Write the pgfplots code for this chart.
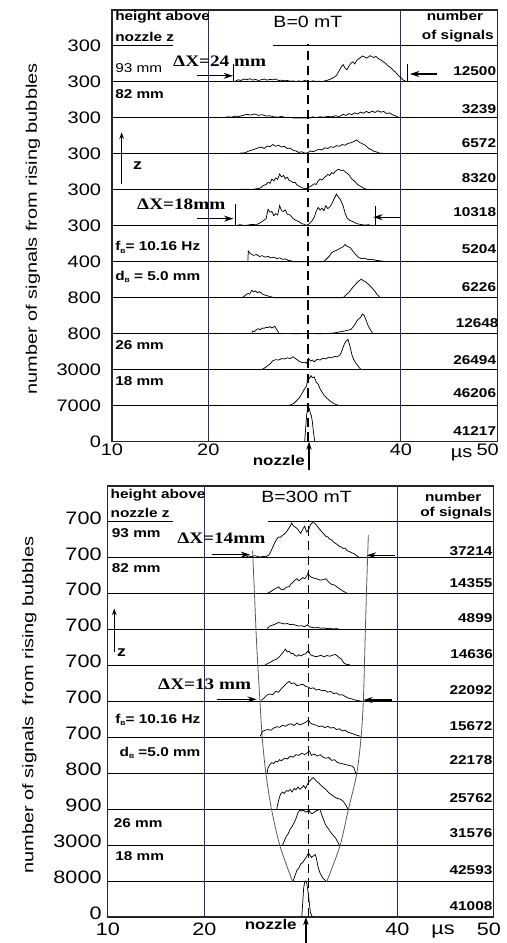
\documentclass[border=0pt]{standalone}
\usepackage{fontspec}
\setmainfont{Liberation Sans}[FakeStretch=1.2]
\newfontfamily\serifb{Liberation Serif}[FakeStretch=1.2]
\newfontfamily\plainsans{Liberation Sans}
\usepackage{pgfplots}
\pgfplotsset{compat=1.18}
\usetikzlibrary{arrows.meta}
\definecolor{gridnavy}{RGB}{40,40,130}
\newcommand{\lab}{\fontsize{9.6}{10}\selectfont\bfseries}
\newcommand{\dx}{\serifb\fontsize{12}{12}\selectfont\bfseries}
\newcommand{\sub}[1]{\raisebox{-1.6pt}{\fontsize{4.5}{5}\selectfont #1}}

\tikzset{arr/.style={-{Stealth[length=7pt,width=4.5pt]}, line width=0.9pt}}
\pgfplotsset{
  panel/.style={
    scale only axis, clip=false,
    xmin=10, xmax=50, ymin=0, ymax=12,
    axis line style={draw=black!85, line width=0.8pt},
    major tick length=0pt, tick style={draw=none},
    xticklabels={10,20,40,50},
    ytick={0,...,11},
    tick label style={inner sep=0pt},
    /pgf/number format/assume math mode=true,
  },
  hist/.style={black, line width=0.55pt, mark=none},
  env/.style={black!65, line width=0.6pt, smooth, mark=none},
}

\begin{document}
\begin{tikzpicture}
\path[use as bounding box] (0,0) rectangle (380.25pt,707.25pt);

% ---------------- B = 0 mT ----------------
\begin{axis}[panel, at={(84pt,375.98pt)}, anchor=south west,
  width=288.98pt, height=323.78pt,
  xtick={10,20,40,49.0},
  tick label style={font=\fontsize{12.5}{12.5}\selectfont},
  yticklabels={0,7000,3000,800,800,400,300,300,300,300,300,300},
  yticklabel style={xshift=-8pt}, xticklabel style={yshift=-1.5pt}]

\pgfplotsinvokeforeach{1,...,10}{\draw[line width=0.75pt] (axis cs:10,#1) -- (axis cs:50,#1);}
\draw[line width=0.75pt] (axis cs:10,11) -- (axis cs:16.3,11);
\draw[line width=0.75pt] (axis cs:26.7,11) -- (axis cs:50,11);
\draw[gridnavy, line width=0.75pt] (axis cs:20,0) -- (axis cs:20,12);
\draw[gridnavy, line width=0.75pt] (axis cs:40,0) -- (axis cs:40,12);
\draw[dash pattern=on 7pt off 4pt, line width=1.3pt] (axis cs:30.31,0) -- (axis cs:30.31,11.06);

% 93 mm
\addplot[hist] coordinates {(22.8,10.02)(23.1,10.06)(23.4,10.04)(23.7,10.08)(24.0,10.06)(24.3,10.09)(24.6,10.05)(24.9,10.07)(25.2,10.04)(25.5,10.06)(25.8,10.08)(26.1,10.05)(26.4,10.07)(26.7,10.06)(27.0,10.08)(27.3,10.04)(27.6,10.05)(27.9,10.03)(28.2,10.04)(28.5,10.02)(28.8,10.03)(29.1,10.01)(29.4,10.03)(29.7,10.01)(30.0,10.04)(30.3,10.02)(30.6,10.01)(30.9,10.03)(31.2,10.01)(31.5,10.02)(31.8,10.01)(32.1,10.03)(32.4,10.05)(32.7,10.08)(33.0,10.12)(33.3,10.18)(33.6,10.32)(33.8,10.42)(34.0,10.48)(34.2,10.38)(34.4,10.34)(34.6,10.44)(34.8,10.52)(35.0,10.56)(35.2,10.50)(35.4,10.60)(35.6,10.64)(35.8,10.68)(36.0,10.72)(36.2,10.70)(36.4,10.66)(36.6,10.69)(36.8,10.73)(37.0,10.70)(37.2,10.68)(37.4,10.71)(37.6,10.66)(37.8,10.62)(38.0,10.60)(38.2,10.55)(38.4,10.52)(38.6,10.46)(38.8,10.42)(39.0,10.38)(39.2,10.32)(39.4,10.28)(39.6,10.22)(39.8,10.16)(40.0,10.12)(40.2,10.06)(40.4,10.03)(40.6,10.01)(41.0,10.02)};
% 82 mm
\addplot[hist] coordinates {(21.7,9.01)(22.0,9.03)(22.4,9.02)(22.8,9.05)(23.2,9.04)(23.6,9.07)(24.0,9.10)(24.4,9.08)(24.8,9.11)(25.2,9.07)(25.6,9.09)(26.0,9.05)(26.4,9.06)(26.8,9.03)(27.2,9.02)(27.6,9.04)(28.0,9.01)(28.4,9.02)(28.8,9.0)(30.6,9.0)(30.8,9.03)(31.2,9.01)(31.6,9.03)(32.0,9.02)(32.4,9.04)(32.8,9.03)(33.2,9.06)(33.6,9.04)(34.0,9.10)(34.3,9.07)(34.6,9.12)(34.9,9.09)(35.2,9.14)(35.5,9.11)(35.8,9.16)(36.1,9.13)(36.4,9.18)(36.7,9.14)(37.0,9.19)(37.3,9.15)(37.6,9.20)(37.9,9.16)(38.2,9.18)(38.5,9.12)(38.8,9.14)(39.1,9.09)(39.4,9.06)(39.7,9.02)};
\addplot[hist] coordinates {(23.3,8.02)(23.8,8.03)(24.3,8.09)(24.7,8.12)(25.1,8.16)(25.5,8.19)(25.8,8.15)(26.1,8.22)(26.4,8.20)(26.7,8.26)(27.0,8.21)(27.3,8.24)(27.6,8.19)(27.9,8.21)(28.2,8.15)(28.5,8.16)(28.8,8.10)(29.1,8.08)(29.4,8.04)(29.7,8.06)(30.0,8.02)(30.3,8.03)(30.6,8.08)(30.9,8.06)(31.2,8.10)(31.5,8.13)(31.8,8.11)(32.1,8.17)(32.4,8.15)(32.7,8.20)(33.0,8.18)(33.3,8.23)(33.6,8.21)(33.9,8.26)(34.2,8.24)(34.5,8.29)(34.8,8.31)(35.1,8.34)(35.4,8.39)(35.7,8.32)(36.0,8.28)(36.3,8.24)(36.6,8.16)(36.9,8.12)(37.2,8.07)(37.5,8.05)(37.8,8.02)(38.4,8.01)(39.2,8.01)};
\addplot[hist] coordinates {(23.1,7.01)(23.8,7.02)(24.5,7.01)(25.0,7.03)(25.4,7.05)(25.7,7.12)(26.0,7.15)(26.2,7.21)(26.4,7.18)(26.6,7.30)(26.8,7.25)(27.0,7.33)(27.2,7.29)(27.4,7.44)(27.6,7.36)(27.8,7.40)(28.0,7.31)(28.2,7.35)(28.4,7.26)(28.6,7.24)(28.8,7.20)(29.0,7.21)(29.2,7.14)(29.5,7.09)(29.8,7.05)(30.0,7.03)(30.2,7.04)(30.5,7.08)(30.8,7.13)(31.0,7.17)(31.2,7.15)(31.4,7.25)(31.6,7.30)(31.8,7.27)(32.0,7.33)(32.2,7.38)(32.4,7.43)(32.6,7.40)(32.8,7.48)(33.0,7.45)(33.2,7.52)(33.5,7.57)(33.8,7.54)(34.0,7.55)(34.3,7.48)(34.6,7.42)(34.9,7.30)(35.2,7.24)(35.5,7.15)(35.8,7.10)(36.1,7.05)(36.4,7.02)(36.8,7.0)};
\addplot[hist] coordinates {(22.9,6.01)(23.3,6.03)(23.7,6.01)(24.1,6.02)(24.5,6.04)(25.0,6.03)(25.4,6.09)(25.7,6.14)(26.0,6.20)(26.2,6.46)(26.4,6.38)(26.6,6.40)(26.8,6.28)(27.0,6.34)(27.2,6.30)(27.4,6.56)(27.6,6.42)(27.8,6.40)(28.0,6.44)(28.2,6.32)(28.5,6.30)(28.8,6.20)(29.1,6.15)(29.4,6.12)(29.7,6.06)(30.0,6.04)(30.2,6.01)(30.5,6.06)(30.8,6.15)(31.0,6.24)(31.2,6.40)(31.4,6.51)(31.6,6.44)(31.8,6.49)(32.0,6.42)(32.2,6.56)(32.4,6.48)(32.6,6.52)(32.8,6.60)(33.0,6.72)(33.3,6.88)(33.5,6.80)(33.7,6.74)(34.0,6.55)(34.2,6.35)(34.4,6.22)(34.7,6.15)(35.0,6.12)(35.4,6.06)(35.8,6.04)(36.2,6.02)(36.6,6.03)(37.1,6.0)};
\addplot[hist] coordinates {(24.1,5.0)(24.15,5.30)(24.4,5.22)(24.7,5.18)(25.0,5.20)(25.3,5.15)(25.6,5.17)(25.9,5.13)(26.2,5.15)(26.5,5.11)(26.8,5.13)(27.1,5.09)(27.4,5.11)(27.7,5.07)(28.0,5.08)(28.3,5.04)(28.6,5.03)(28.7,5.0)(31.9,5.0)(32.2,5.06)(32.5,5.14)(32.8,5.25)(33.1,5.30)(33.4,5.33)(33.7,5.38)(34.0,5.42)(34.2,5.48)(34.4,5.43)(34.7,5.40)(35.0,5.30)(35.3,5.20)(35.6,5.12)(35.9,5.09)(36.2,5.10)(36.6,5.06)(37.0,5.07)(37.4,5.04)(37.8,5.03)(38.3,5.01)};
\addplot[hist] coordinates {(23.5,4.0)(23.8,4.06)(24.1,4.12)(24.3,4.10)(24.5,4.21)(24.7,4.16)(24.9,4.19)(25.1,4.14)(25.3,4.17)(25.6,4.11)(25.9,4.07)(26.2,4.05)(26.6,4.02)(26.9,4.0)(34.0,4.0)(34.3,4.08)(34.6,4.15)(34.9,4.26)(35.1,4.32)(35.3,4.38)(35.5,4.44)(35.7,4.48)(35.9,4.52)(36.1,4.47)(36.3,4.45)(36.5,4.40)(36.7,4.36)(36.9,4.30)(37.1,4.24)(37.3,4.18)(37.5,4.10)(37.8,4.02)};
\addplot[hist] coordinates {(24.5,3.0)(24.6,3.08)(24.8,3.06)(25.0,3.12)(25.2,3.14)(25.4,3.11)(25.6,3.16)(25.8,3.15)(26.0,3.18)(26.2,3.17)(26.4,3.20)(26.6,3.16)(26.9,3.21)(27.1,3.12)(27.3,3.03)(27.4,3.0)(28.0,3.01)(29.0,3.0)(30.5,3.01)(31.5,3.0)(32.5,3.01)(33.0,3.02)(33.4,3.04)(33.8,3.06)(34.2,3.08)(34.5,3.10)(34.8,3.12)(35.0,3.18)(35.2,3.25)(35.4,3.35)(35.6,3.41)(35.8,3.45)(36.0,3.55)(36.2,3.50)(36.4,3.36)(36.6,3.22)(36.8,3.12)(37.1,3.0)};
\addplot[hist] coordinates {(25.5,2.0)(25.8,2.04)(26.1,2.10)(26.4,2.16)(26.7,2.25)(27.0,2.28)(27.3,2.27)(27.6,2.31)(27.9,2.30)(28.2,2.33)(28.5,2.31)(28.8,2.36)(29.1,2.30)(29.4,2.24)(29.7,2.20)(30.0,2.21)(30.2,2.18)(30.4,2.32)(30.6,2.24)(30.8,2.27)(31.0,2.22)(31.3,2.29)(31.6,2.27)(31.9,2.32)(32.2,2.30)(32.5,2.35)(32.8,2.33)(33.1,2.37)(33.4,2.36)(33.7,2.42)(33.9,2.55)(34.1,2.70)(34.3,2.80)(34.5,2.84)(34.7,2.66)(34.9,2.42)(35.1,2.28)(35.4,2.15)(35.7,2.05)(35.9,2.0)};
\addplot[hist] coordinates {(28.3,1.0)(28.6,1.03)(28.9,1.07)(29.2,1.15)(29.5,1.24)(29.8,1.38)(30.0,1.47)(30.2,1.55)(30.35,1.82)(30.5,1.76)(30.65,1.84)(30.8,1.78)(31.0,1.80)(31.2,1.66)(31.4,1.60)(31.6,1.47)(31.8,1.38)(32.0,1.30)(32.3,1.21)(32.6,1.14)(32.9,1.08)(33.2,1.04)(33.6,1.0)};
\addplot[hist] coordinates {(30.0,0.0)(30.1,0.35)(30.2,0.72)(30.3,0.90)(30.4,0.97)(30.5,0.90)(30.6,0.78)(30.7,0.72)(30.8,0.55)(30.9,0.30)(31.05,0.0)};

% annotations
\node[anchor=west, font=\lab, inner sep=0pt] at (axis cs:10.31,11.80) {height above};
\node[anchor=west, font=\lab, inner sep=0pt] at (axis cs:10.31,11.26) {nozzle z};
\node[font=\fontsize{12.2}{12}\selectfont, inner sep=0pt] at (axis cs:30.34,11.68) {B=0 mT};
\node[font=\lab, inner sep=0pt] at (axis cs:45.6,11.83) {number};
\node[font=\lab, inner sep=0pt] at (axis cs:45.9,11.28) {of signals};
\node[anchor=west, font=\fontsize{9.6}{10}\selectfont, inner sep=0pt] at (axis cs:10.31,10.39) {93 mm};
\node[anchor=west, font=\lab, inner sep=0pt] at (axis cs:10.31,9.67) {82 mm};
\draw[-{Stealth[length=5pt,width=3.5pt]}, line width=0.9pt] (axis cs:11.0,7.17) -- (axis cs:11.0,8.6);
\node[font=\fontsize{11}{11}\selectfont\bfseries, inner sep=0pt] at (axis cs:12.65,7.67) {z};
\node[anchor=west, font=\lab, inner sep=0pt] at (axis cs:10.31,5.40) {f\sub{B}= 10.16 Hz};
\node[anchor=west, font=\lab, inner sep=0pt] at (axis cs:10.31,4.57) {d\sub{B} = 5.0 mm};
\node[anchor=west, font=\lab, inner sep=0pt] at (axis cs:10.31,2.68) {26 mm};
\node[anchor=west, font=\lab, inner sep=0pt] at (axis cs:10.31,1.68) {18 mm};
\node[anchor=west, font=\dx, inner sep=0pt] at (axis cs:16.33,10.58) {ΔX=24 mm};
\draw[arr] (axis cs:18.82,10.17) -- (axis cs:22.56,10.17);
\draw[arr] (axis cs:43.73,10.22) -- (axis cs:40.93,10.22);
\draw[line width=0.6pt] (axis cs:22.65,10) -- (axis cs:22.65,10.5);
\draw[line width=0.6pt] (axis cs:40.7,10) -- (axis cs:40.7,10.5);
\node[anchor=west, font=\dx, inner sep=0pt] at (axis cs:12.59,6.59) {ΔX=18mm};
\draw[arr] (axis cs:18.79,6.2) -- (axis cs:22.59,6.2);
\draw[arr] (axis cs:39.89,6.24) -- (axis cs:37.12,6.24);
\draw[line width=0.6pt] (axis cs:22.77,6) -- (axis cs:22.77,6.62);
\draw[line width=0.6pt] (axis cs:37.3,6) -- (axis cs:37.3,6.55);
\node[anchor=east, font=\lab, inner sep=0pt] at (axis cs:49.9,10.31) {12500};
\node[anchor=east, font=\lab, inner sep=0pt] at (axis cs:49.9,9.25) {3239};
\node[anchor=east, font=\lab, inner sep=0pt] at (axis cs:49.9,8.31) {6572};
\node[anchor=east, font=\lab, inner sep=0pt] at (axis cs:49.9,7.34) {8320};
\node[anchor=east, font=\lab, inner sep=0pt] at (axis cs:49.9,6.37) {10318};
\node[anchor=east, font=\lab, inner sep=0pt] at (axis cs:49.9,5.34) {5204};
\node[anchor=east, font=\lab, inner sep=0pt] at (axis cs:49.9,4.29) {6226};
\node[anchor=east, font=\lab, inner sep=0pt] at (axis cs:50.15,3.29) {12648};
\node[anchor=east, font=\lab, inner sep=0pt] at (axis cs:49.9,2.27) {26494};
\node[anchor=east, font=\lab, inner sep=0pt] at (axis cs:49.9,1.35) {46206};
\node[anchor=east, font=\lab, inner sep=0pt] at (axis cs:49.9,0.30) {41217};
\draw[-{Stealth[length=6pt,width=4pt]}, line width=1.2pt] (axis cs:30.45,-0.78) -- (axis cs:30.45,0);
\node[anchor=base east, font=\fontsize{10.6}{11}\selectfont\bfseries, inner sep=0pt] at (axis cs:30.03,-0.65) {nozzle};
\node[anchor=base, font=\fontsize{12.5}{12.5}\selectfont, inner sep=0pt] at (axis cs:46.3,-0.44) {µs};
\end{axis}

% ---------------- B = 300 mT ----------------
\begin{axis}[panel, at={(80.85pt,19.5pt)}, anchor=south west,
  width=289.5pt, height=323.25pt,
  xtick={10,20,40,49.5},
  tick label style={font=\fontsize{13.5}{13.5}\selectfont},
  yticklabels={0,8000,3000,900,800,700,700,700,700,700,700,700},
  yticklabel style={xshift=-4.5pt, yshift=3pt}, xticklabel style={yshift=-4.5pt}]

\pgfplotsinvokeforeach{1,...,10}{\draw[line width=0.75pt] (axis cs:10,#1) -- (axis cs:50,#1);}
\draw[line width=0.75pt] (axis cs:10,11) -- (axis cs:16.77,11);
\draw[line width=0.75pt] (axis cs:26.63,11) -- (axis cs:50,11);
\draw[gridnavy, line width=0.75pt] (axis cs:20,0) -- (axis cs:20,12);
\draw[gridnavy, line width=0.75pt] (axis cs:40,0) -- (axis cs:40,12);
\draw[dash pattern=on 7pt off 4pt, line width=1.3pt] (axis cs:30.8,0) -- (axis cs:30.8,11.05);

\addplot[env] coordinates {(25.0,10.2)(25.2,9.0)(25.43,7.57)(25.77,5.99)(26.01,4.97)(26.39,3.98)(26.98,2.98)(27.84,1.98)(29.16,0.98)};
\addplot[env] coordinates {(37.0,10.63)(36.8,9.0)(36.65,7.57)(36.48,5.99)(36.24,4.98)(35.79,3.98)(34.92,2.98)(34.06,1.98)(32.68,0.98)};

\addplot[hist] coordinates {(23.7,10.01)(24.0,10.03)(24.3,10.02)(24.6,10.05)(24.9,10.03)(25.2,10.06)(25.5,10.04)(25.8,10.02)(26.1,10.04)(26.4,10.03)(26.7,10.08)(26.9,10.18)(27.1,10.30)(27.3,10.42)(27.5,10.52)(27.7,10.58)(27.9,10.57)(28.1,10.63)(28.3,10.66)(28.5,10.72)(28.7,10.80)(28.9,10.88)(29.05,10.97)(29.2,10.90)(29.4,10.86)(29.6,10.82)(29.8,10.75)(30.0,10.68)(30.2,10.80)(30.4,10.88)(30.6,10.72)(30.8,10.78)(31.0,10.92)(31.2,10.98)(31.4,10.97)(31.6,10.92)(31.8,10.85)(32.0,10.78)(32.2,10.72)(32.4,10.66)(32.6,10.60)(32.8,10.58)(33.0,10.52)(33.2,10.50)(33.4,10.44)(33.6,10.40)(33.8,10.37)(34.0,10.32)(34.2,10.30)(34.4,10.26)(34.6,10.27)(34.8,10.20)(35.0,10.18)(35.2,10.15)(35.4,10.13)(35.6,10.10)(35.8,10.06)(36.1,10.0)};
\addplot[hist] coordinates {(26.6,9.02)(26.9,9.06)(27.2,9.12)(27.5,9.16)(27.7,9.19)(27.9,9.13)(28.2,9.11)(28.5,9.18)(28.8,9.20)(29.0,9.28)(29.2,9.32)(29.4,9.38)(29.6,9.42)(29.8,9.36)(30.0,9.40)(30.2,9.45)(30.4,9.42)(30.6,9.48)(30.75,9.58)(30.9,9.50)(31.1,9.46)(31.4,9.43)(31.7,9.41)(32.0,9.38)(32.3,9.39)(32.6,9.42)(32.9,9.32)(33.2,9.26)(33.5,9.24)(33.8,9.18)(34.1,9.12)(34.4,9.07)(34.75,9.02)};
\addplot[hist] coordinates {(26.5,8.03)(26.8,8.10)(27.1,8.13)(27.4,8.16)(27.7,8.20)(28.0,8.18)(28.3,8.16)(28.6,8.17)(28.9,8.14)(29.2,8.15)(29.5,8.12)(29.8,8.10)(30.1,8.11)(30.4,8.08)(30.7,8.14)(30.9,8.08)(31.2,8.06)(31.5,8.05)(31.8,8.06)(32.1,8.04)(32.4,8.05)(32.7,8.03)(33.0,8.04)(33.3,8.02)(33.7,8.03)(34.0,8.01)};
\addplot[hist] coordinates {(26.3,7.02)(26.6,7.06)(26.9,7.10)(27.2,7.15)(27.5,7.18)(27.8,7.25)(28.0,7.32)(28.2,7.38)(28.4,7.46)(28.6,7.38)(28.8,7.40)(29.0,7.33)(29.2,7.34)(29.4,7.28)(29.6,7.26)(29.8,7.30)(30.0,7.27)(30.2,7.30)(30.5,7.33)(30.8,7.42)(31.0,7.30)(31.2,7.28)(31.5,7.25)(31.8,7.26)(32.1,7.29)(32.4,7.24)(32.7,7.28)(33.0,7.26)(33.3,7.29)(33.6,7.31)(33.9,7.24)(34.2,7.18)(34.5,7.06)(34.8,7.03)(35.1,7.02)};
\addplot[hist] coordinates {(25.9,6.03)(26.2,6.10)(26.5,6.18)(26.8,6.21)(27.1,6.19)(27.4,6.28)(27.7,6.26)(28.0,6.36)(28.3,6.44)(28.5,6.50)(28.8,6.56)(29.0,6.50)(29.3,6.52)(29.6,6.44)(29.9,6.46)(30.2,6.48)(30.5,6.42)(30.8,6.40)(31.0,6.36)(31.3,6.38)(31.6,6.32)(31.9,6.34)(32.2,6.30)(32.5,6.31)(32.8,6.26)(33.1,6.28)(33.4,6.22)(33.7,6.24)(34.0,6.18)(34.3,6.19)(34.6,6.14)(34.9,6.10)(35.2,6.08)(35.5,6.05)(35.8,6.03)(36.3,6.01)};
\addplot[hist] coordinates {(25.8,5.03)(26.0,5.16)(26.3,5.20)(26.6,5.22)(26.9,5.20)(27.2,5.26)(27.5,5.30)(27.8,5.28)(28.1,5.34)(28.4,5.31)(28.7,5.36)(29.0,5.38)(29.3,5.33)(29.6,5.40)(29.9,5.35)(30.2,5.38)(30.5,5.42)(30.8,5.48)(31.0,5.40)(31.3,5.36)(31.6,5.34)(31.9,5.30)(32.2,5.32)(32.5,5.27)(32.8,5.31)(33.1,5.26)(33.4,5.28)(33.7,5.22)(34.0,5.24)(34.3,5.18)(34.6,5.20)(34.9,5.14)(35.2,5.12)(35.5,5.09)(35.8,5.06)(36.2,5.03)};
\addplot[hist] coordinates {(26.5,4.0)(26.6,4.15)(26.8,4.25)(27.0,4.30)(27.2,4.27)(27.4,4.34)(27.6,4.32)(27.8,4.38)(28.0,4.35)(28.3,4.42)(28.6,4.40)(28.9,4.48)(29.2,4.45)(29.5,4.52)(29.8,4.50)(30.1,4.56)(30.4,4.52)(30.7,4.58)(30.9,4.62)(31.1,4.50)(31.4,4.54)(31.7,4.48)(32.0,4.52)(32.3,4.45)(32.6,4.42)(32.9,4.44)(33.2,4.36)(33.5,4.38)(33.8,4.30)(34.1,4.28)(34.4,4.26)(34.7,4.24)(35.0,4.22)(35.3,4.20)(35.5,4.16)(35.7,4.0)};
\addplot[hist] coordinates {(27.5,3.0)(27.7,3.25)(27.9,3.42)(28.1,3.48)(28.3,3.44)(28.5,3.52)(28.7,3.50)(28.9,3.55)(29.1,3.48)(29.3,3.58)(29.5,3.54)(29.7,3.62)(29.9,3.56)(30.1,3.60)(30.3,3.66)(30.5,3.58)(30.7,3.70)(30.9,3.78)(31.1,3.84)(31.3,3.88)(31.5,3.82)(31.7,3.76)(31.9,3.72)(32.1,3.66)(32.3,3.62)(32.6,3.55)(32.9,3.46)(33.2,3.40)(33.5,3.34)(33.8,3.30)(34.1,3.28)(34.4,3.22)(34.7,3.10)(34.9,3.0)};
\addplot[hist] coordinates {(28.1,2.0)(28.3,2.12)(28.5,2.25)(28.7,2.32)(28.9,2.45)(29.1,2.52)(29.3,2.62)(29.5,2.74)(29.7,2.90)(29.9,2.98)(30.1,2.95)(30.3,2.97)(30.5,2.92)(30.7,2.94)(30.85,2.98)(31.0,2.90)(31.2,2.88)(31.4,2.92)(31.6,2.96)(31.8,2.98)(32.0,2.99)(32.2,2.82)(32.4,2.68)(32.6,2.55)(32.8,2.48)(33.0,2.40)(33.2,2.32)(33.4,2.26)(33.6,2.20)(33.8,2.10)(34.0,2.0)};
\addplot[hist] coordinates {(29.2,1.0)(29.4,1.15)(29.6,1.30)(29.8,1.36)(30.0,1.48)(30.2,1.52)(30.4,1.60)(30.6,1.68)(30.8,1.78)(30.95,1.72)(31.1,1.66)(31.3,1.70)(31.5,1.74)(31.6,1.65)(31.8,1.38)(32.0,1.22)(32.3,1.08)(32.6,1.0)};
\addplot[hist] coordinates {(30.1,0.0)(30.2,0.40)(30.3,0.82)(30.4,0.96)(30.5,1.0)(30.6,0.97)(30.7,0.80)(30.8,0.60)(30.9,0.35)(31.0,0.12)(31.2,0.0)};

\node[anchor=west, font=\lab, inner sep=0pt] at (axis cs:10.27,11.74) {height above};
\node[anchor=west, font=\lab, inner sep=0pt] at (axis cs:10.27,11.26) {nozzle z};
\node[font=\fontsize{12.2}{12}\selectfont, inner sep=0pt] at (axis cs:30.6,11.69) {B=300 mT};
\node[font=\lab, inner sep=0pt] at (axis cs:45.8,11.69) {number};
\node[font=\lab, inner sep=0pt] at (axis cs:46.1,11.24) {of signals};
\node[anchor=west, font=\lab, inner sep=0pt] at (axis cs:10.4,10.68) {93 mm};
\node[anchor=west, font=\lab, inner sep=0pt] at (axis cs:10.4,9.71) {82 mm};
\draw[-{Stealth[length=5pt,width=3.5pt]}, line width=0.9pt] (axis cs:10.67,7.38) -- (axis cs:10.67,8.59);
\node[font=\fontsize{11}{11}\selectfont\bfseries, inner sep=0pt] at (axis cs:11.41,7.37) {z};
\node[anchor=west, font=\lab, inner sep=0pt] at (axis cs:10.75,5.48) {f\sub{B}= 10.16 Hz};
\node[anchor=west, font=\lab, inner sep=0pt] at (axis cs:11.2,4.56) {d\sub{B} =5.0 mm};
\node[anchor=west, font=\lab, inner sep=0pt] at (axis cs:10.6,2.62) {26 mm};
\node[anchor=west, font=\lab, inner sep=0pt] at (axis cs:10.75,1.70) {18 mm};
\node[anchor=west, font=\dx, inner sep=0pt] at (axis cs:17.17,10.55) {ΔX=14mm};
\draw[arr] (axis cs:20.77,10.09) -- (axis cs:24.74,10.09);
\draw[arr] (axis cs:39.76,10.07) -- (axis cs:36.83,10.07);
\node[anchor=west, font=\dx, inner sep=0pt] at (axis cs:15.2,6.48) {ΔX=13 mm};
\draw[arr] (axis cs:21.28,6.06) -- (axis cs:25.43,6.06);
\draw[arr] (axis cs:39.42,6.04) -- (axis cs:36.48,6.04);
\node[anchor=east, font=\lab, inner sep=0pt] at (axis cs:49.88,10.18) {37214};
\node[anchor=east, font=\lab, inner sep=0pt] at (axis cs:49.88,9.29) {14355};
\node[anchor=east, font=\lab, inner sep=0pt] at (axis cs:49.88,8.32) {4899};
\node[anchor=east, font=\lab, inner sep=0pt] at (axis cs:49.95,7.32) {14636};
\node[anchor=east, font=\lab, inner sep=0pt] at (axis cs:49.88,6.32) {22092};
\node[anchor=east, font=\lab, inner sep=0pt] at (axis cs:49.88,5.31) {15672};
\node[anchor=east, font=\lab, inner sep=0pt] at (axis cs:49.88,4.37) {22178};
\node[anchor=east, font=\lab, inner sep=0pt] at (axis cs:49.88,3.31) {25762};
\node[anchor=east, font=\lab, inner sep=0pt] at (axis cs:49.88,2.34) {31576};
\node[anchor=east, font=\lab, inner sep=0pt] at (axis cs:49.88,1.31) {42593};
\node[anchor=east, font=\lab, inner sep=0pt] at (axis cs:49.88,0.31) {41008};
\draw[-{Stealth[length=6pt,width=4pt]}, line width=1.2pt] (axis cs:30.53,-0.72) -- (axis cs:30.53,0);
\node[anchor=base east, font=\fontsize{10.6}{11}\selectfont\bfseries, inner sep=0pt] at (axis cs:29.6,-0.36) {nozzle};
\node[anchor=base, font=\fontsize{13.5}{13.5}\selectfont, inner sep=0pt] at (axis cs:44.74,-0.5) {µs};
\end{axis}

\node[rotate=90, font=\plainsans\fontsize{11.5}{12}\selectfont, inner sep=0pt] at (24.75pt,535.5pt) {\scalebox{1.3}[1]{number of signals from rising bubbles}};
\node[rotate=90, font=\plainsans\fontsize{11.5}{12}\selectfont, inner sep=0pt] at (22pt,178.5pt) {\scalebox{1.3}[1]{number of signals\ \ from rising bubbles}};
\end{tikzpicture}
\end{document}
